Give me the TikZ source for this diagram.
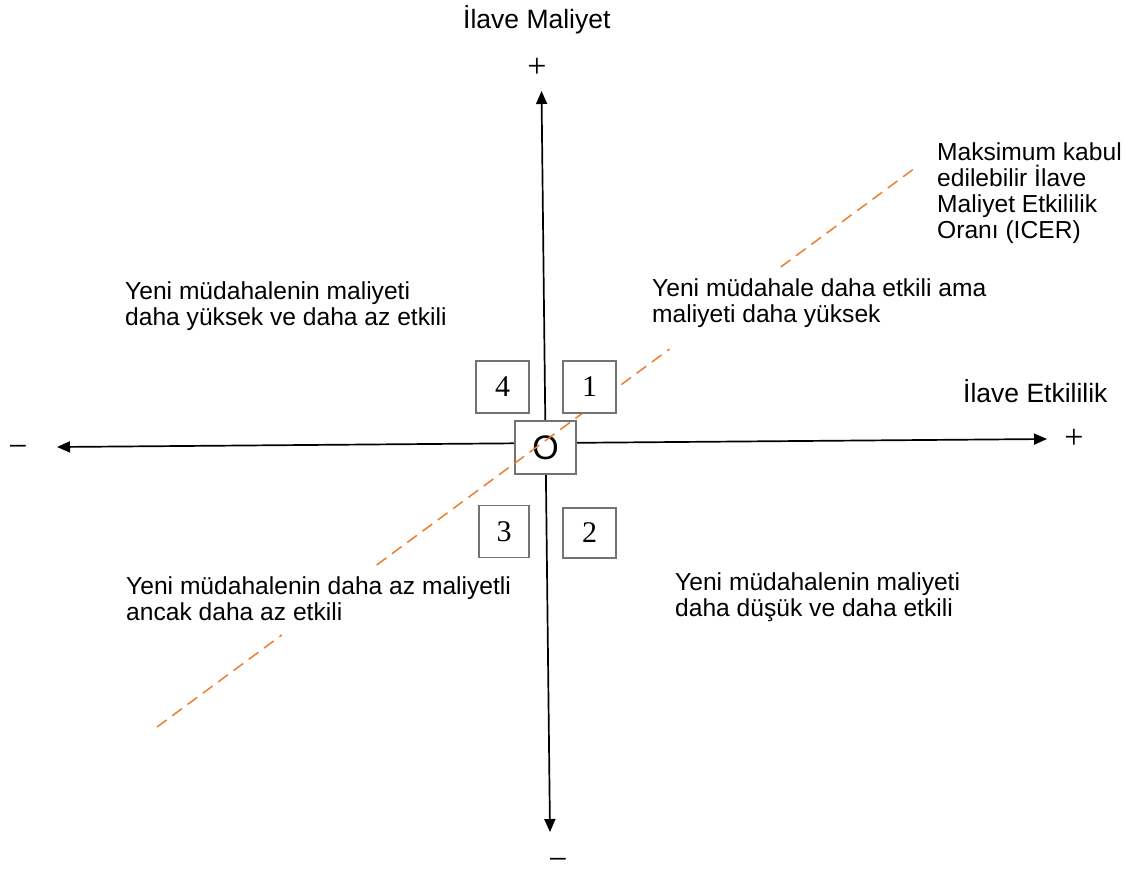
\documentclass[tikz,border=0pt]{standalone}
\usepackage{fontspec}
\setmainfont{Liberation Sans}
\newfontfamily\serifnum{Liberation Serif}
\usetikzlibrary{arrows.meta,calc}
\definecolor{icerorange}{RGB}{237,125,49}
\begin{document}
\begin{tikzpicture}[x=1pt,y=-1pt,
  axis/.style={line width=1.7pt, {Triangle[length=13pt,width=11pt]}-{Triangle[length=13pt,width=11pt]}},
  icer/.style={draw=icerorange, line width=1.5pt, dash pattern=on 12pt off 7pt},
  quad/.style={draw=black!55, line width=1.2pt, fill=white, minimum width=53pt,
    minimum height=52pt, inner sep=0pt, font=\serifnum\fontsize{30}{30}\selectfont},
  note/.style={anchor=base west, align=left, inner sep=0pt,
    font=\fontsize{24.6}{26}\selectfont},
  title/.style={anchor=base west, inner sep=0pt, font=\fontsize{26.5}{28}\selectfont},
  sign/.style={inner sep=0pt, font=\serifnum\fontsize{34}{34}\selectfont}]
\useasboundingbox (0,0) rectangle (1129,871);

% axis ends
\coordinate (ytop) at (541.5,91);
\coordinate (ybot) at (550,832);
\coordinate (xleft) at (57,447);
\coordinate (xright) at (1047,439);

% axes
\draw[axis] (ybot) -- (ytop);
\draw[axis] (xleft) -- (xright);

% origin
\node[quad, minimum width=61pt, minimum height=53pt,
  font=\fontsize{34}{34}\selectfont] (O) at (545.5,447.5) {O};

% threshold line (maximum acceptable ICER)
\coordinate (iA) at (157,727);
\coordinate (iB) at (915,168);
\draw[icer] (iA) -- ($(iA)!0.1646!(iB)$);
\draw[icer] ($(iA)!0.2898!(iB)$) -- ($(iA)!0.6762!(iB)$);
\draw[icer] ($(iA)!0.8229!(iB)$) -- (iB);

% quadrant numbers
\node[quad] (q4) at (502.5,387) {4};
\node[quad] (q1) at (589.5,387) {1};
\node[quad, minimum width=50pt] (q3) at (504,531.5) {3};
\node[quad, minimum height=50pt] (q2) at (589.5,533) {2};

% quadrant descriptions (anchored at the baseline of the last line)
\node[note] (tl) at (125,325) {Yeni müdahalenin maliyeti\\daha yüksek ve daha az etkili};
\node[note] (tr) at (652,322) {Yeni müdahale daha etkili ama\\maliyeti daha yüksek};
\node[note] (icerlbl) at (937,238) {Maksimum kabul\\edilebilir İlave\\Maliyet Etkililik\\Oranı (ICER)};
\node[note] (bl) at (126,620) {Yeni müdahalenin daha az maliyetli\\ancak daha az etkili};
\node[note] (br) at (675,616) {Yeni müdahalenin maliyeti\\daha düşük ve daha etkili};

% axis titles
\node[title] (ylab) at (463,28) {İlave Maliyet};
\node[title] (xlab) at (963,402) {İlave Etkililik};

% axis signs
\node[sign] (yplus) at (537,68) {+};
\node[sign, anchor=base, text height=10pt, text depth=0pt] (yminus) at (558,870.5) {−};
\node[sign] (xminus) at (18,451) {−};
\node[sign] (xplus) at (1074,439) {+};
\end{tikzpicture}
\end{document}
